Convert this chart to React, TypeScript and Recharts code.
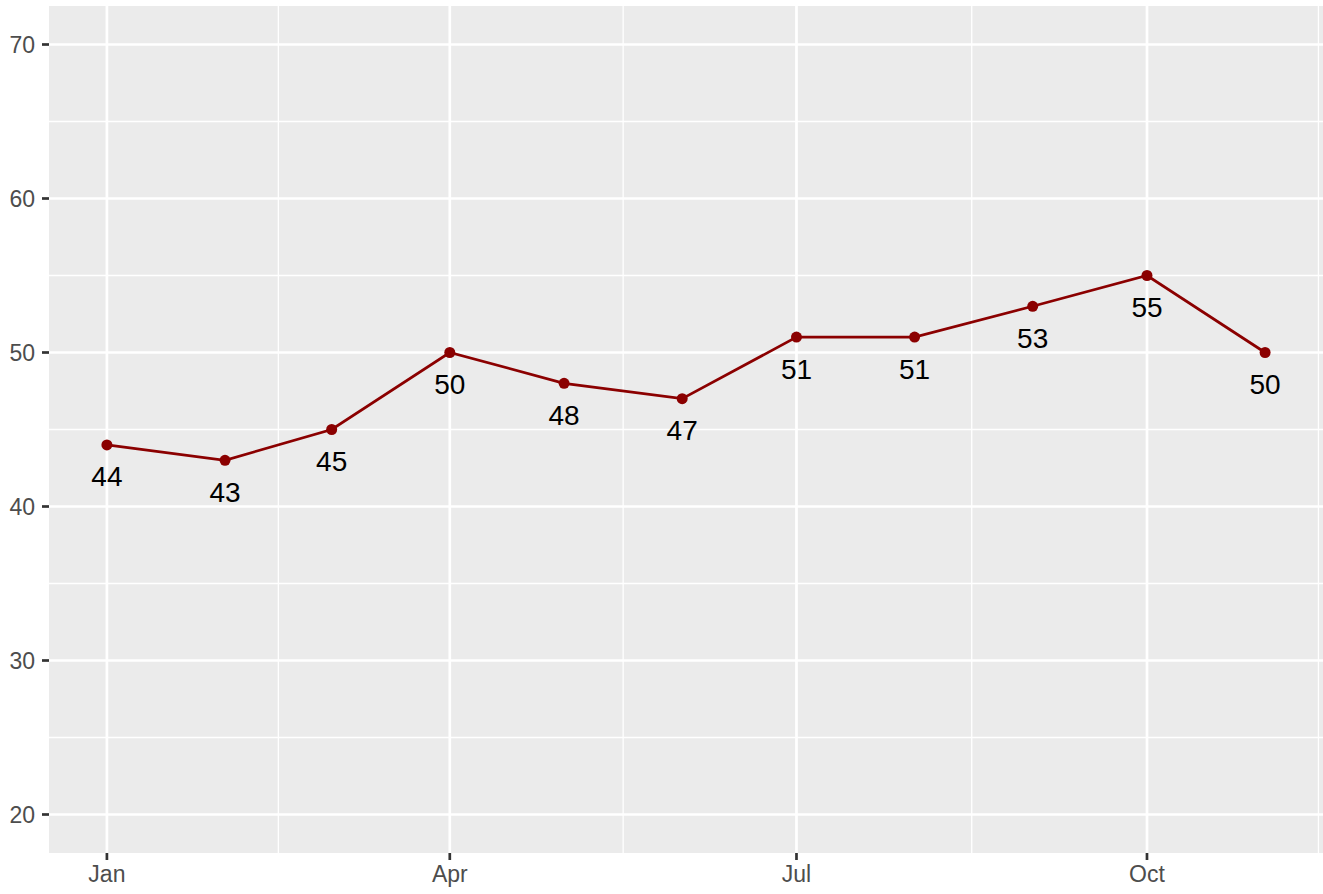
import React from "react";
import {
  LineChart,
  Line,
  XAxis,
  YAxis,
  CartesianGrid,
  LabelList,
} from "recharts";

// monthly values, x as day-of-year of each month start
const MONTHS = ["Jan", "Feb", "Mar", "Apr", "May", "Jun", "Jul", "Aug", "Sep", "Oct", "Nov"];
const DAYS = [0, 31, 59, 90, 120, 151, 181, 212, 243, 273, 304];
const VALUES = [44, 43, 45, 50, 48, 47, 51, 51, 53, 55, 50];

const X_TICKS = [0, 90, 181, 273];
const X_TICK_LABELS = ["Jan", "Apr", "Jul", "Oct"];
const X_MINOR = [45, 135.5, 227, 318];
const Y_TICKS = [20, 30, 40, 50, 60, 70];
const Y_MINOR = [25, 35, 45, 55, 65];

const data = MONTHS.map((m, i) => ({ month: m, day: DAYS[i], value: VALUES[i] }));

const FONT = "'Liberation Sans', Arial, Helvetica, sans-serif";
const RED = "#8B0000";

const ValueLabel = (props: any) => {
  const { x, y, value } = props;
  return (
    <text
      x={x}
      y={y + 32}
      textAnchor="middle"
      dominantBaseline="central"
      fontSize={28}
      fontFamily={FONT}
      fill="#000"
    >
      {value}
    </text>
  );
};

export default function App() {
  const tick = { fontSize: 23, fontFamily: FONT, fill: "#4D4D4D" };
  return (
    <div style={{ position: "absolute", left: 0, top: 0, width: 1323, height: 894, background: "#fff" }}>
      <LineChart width={1323} height={894} data={data} margin={{ top: 6, right: 0, bottom: 0, left: 0 }}>
        <CartesianGrid
          fill="#EBEBEB"
          stroke="#fff"
          strokeWidth={1.3}
          horizontalValues={Y_MINOR}
          verticalValues={X_MINOR}
        />
        <CartesianGrid
          stroke="#fff"
          strokeWidth={2.7}
          horizontalValues={Y_TICKS}
          verticalValues={X_TICKS}
        />
        <XAxis
          dataKey="day"
          type="number"
          domain={[-15.2, 319.2]}
          ticks={X_TICKS}
          interval={0}
          tickFormatter={(v) => X_TICK_LABELS[X_TICKS.indexOf(v)] ?? ""}
          tick={tick}
          axisLine={false}
          tickLine={{ stroke: "#333", strokeWidth: 2.7 }}
          tickSize={7}
          tickMargin={6}
          height={41}
          allowDataOverflow
        />
        <YAxis
          type="number"
          domain={[17.5, 72.5]}
          ticks={Y_TICKS}
          interval={0}
          tick={tick}
          axisLine={false}
          tickLine={{ stroke: "#333", strokeWidth: 2.7 }}
          tickSize={7}
          tickMargin={7}
          width={49}
          allowDataOverflow
        />
        <Line
          type="linear"
          dataKey="value"
          stroke={RED}
          strokeWidth={2.7}
          dot={{ r: 5.5, fill: RED, stroke: RED, strokeWidth: 0 }}
          activeDot={false}
          isAnimationActive={false}
        >
          <LabelList dataKey="value" content={ValueLabel} />
        </Line>
      </LineChart>
    </div>
  );
}
